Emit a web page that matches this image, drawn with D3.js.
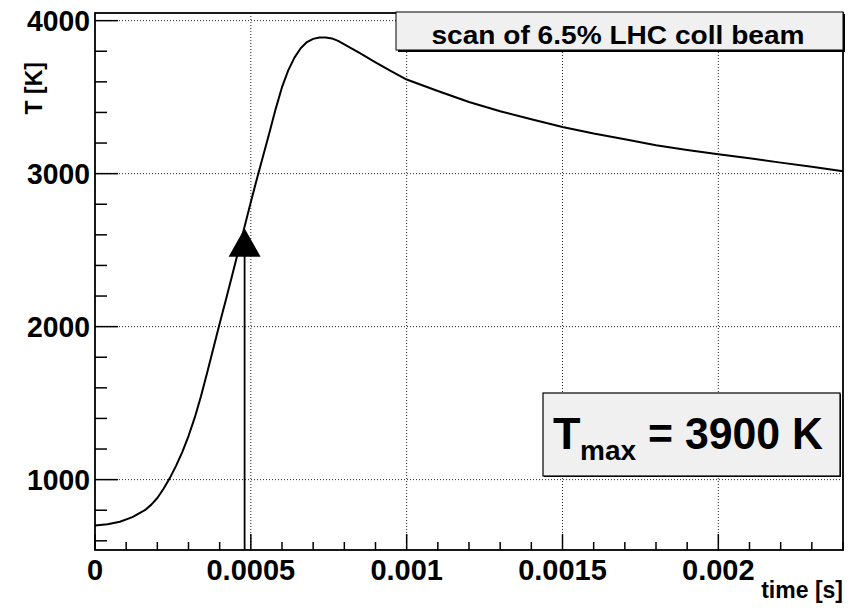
<!DOCTYPE html>
<html>
<head>
<meta charset="utf-8">
<script src="https://cdn.jsdelivr.net/npm/d3@7/dist/d3.min.js"></script>
<style>
  html, body { margin: 0; padding: 0; background: #fff; }
  svg { display: block; }
  text { font-family: "Liberation Sans", Arial, Helvetica, sans-serif; font-weight: bold; fill: #000; }
</style>
</head>
<body>
<div id="chart"></div>
<script>
// time [s] and temperature [K]
var timeS = [0, 0.00004, 0.00008, 0.00012, 0.00016, 0.00018, 0.0002, 0.00022, 0.00024, 0.00026,
  0.00028, 0.0003, 0.00032, 0.00034, 0.00036, 0.00038, 0.0004, 0.00042, 0.00044, 0.00046,
  0.00048, 0.0005, 0.00052, 0.00054, 0.00056, 0.00058, 0.0006, 0.00062, 0.00064, 0.00066,
  0.00068, 0.0007, 0.00072, 0.00074, 0.00076, 0.00078, 0.0008, 0.00082, 0.00085, 0.0009,
  0.00095, 0.001, 0.0011, 0.0012, 0.0013, 0.0014, 0.0015, 0.0016, 0.0017, 0.0018,
  0.0019, 0.002, 0.0021, 0.0022, 0.0023, 0.0024];
var tempK = [700, 708, 725, 755, 800, 835, 880, 940, 1010, 1090,
  1180, 1285, 1405, 1545, 1700, 1860, 2020, 2175, 2335, 2495,
  2655, 2815, 2970, 3120, 3270, 3425, 3565, 3675, 3758, 3820,
  3860, 3881, 3890, 3890, 3884, 3868, 3845, 3822, 3787, 3728,
  3670, 3615, 3540, 3468, 3408, 3355, 3305, 3262, 3225, 3185,
  3155, 3127, 3100, 3072, 3045, 3015];

// scan marker
var markerTime = [0.00048];
var markerTemp = [2550];

var xTicks = [0, 0.0005, 0.001, 0.0015, 0.002];
var xTickLabels = ['0', '0.0005', '0.001', '0.0015', '0.002'];
var yTicks = [1000, 2000, 3000, 4000];
var yTickLabels = ['1000', '2000', '3000', '4000'];

var titleText = 'scan of 6.5% LHC coll beam';
var xTitle = 'time [s]';
var yTitle = 'T [K]';
var tmaxValue = '= 3900 K';

(function(){
  var W = 853, H = 608;
  var left = 95, right = 843, top = 13, bottom = 550;

  var svg = d3.select('#chart').append('svg').attr('width', W).attr('height', H);
  svg.append('rect').attr('width', W).attr('height', H).attr('fill', '#fff');

  var x = d3.scaleLinear().domain([0, 0.0024]).range([left, right]);
  var y = d3.scaleLinear().domain([540, 4050]).range([bottom, top]);

  // grid
  var grid = svg.append('g').attr('stroke', '#222').attr('stroke-width', 1).attr('stroke-dasharray', '1,2');
  xTicks.slice(1).forEach(function(t){
    grid.append('line').attr('x1', x(t)).attr('x2', x(t)).attr('y1', top).attr('y2', bottom);
  });
  yTicks.forEach(function(v){
    grid.append('line').attr('x1', left).attr('x2', right).attr('y1', y(v)).attr('y2', y(v));
  });

  // ticks (ROOT style, inside the frame)
  var ticks = svg.append('g').attr('stroke', '#000').attr('stroke-width', 1.5);
  d3.range(0, 25).forEach(function(i){
    var t = i * 0.0001;
    var major = i % 5 === 0;
    ticks.append('line').attr('x1', x(t)).attr('x2', x(t))
      .attr('y1', bottom).attr('y2', bottom - (major ? 16 : 8));
  });
  d3.range(3, 21).forEach(function(i){
    var v = i * 200;
    var major = i % 5 === 0;
    ticks.append('line').attr('x1', left).attr('x2', left + (major ? 23 : 12))
      .attr('y1', y(v)).attr('y2', y(v));
  });

  // curve
  var line = d3.line().x(function(d){ return x(d[0]); }).y(function(d){ return y(d[1]); });
  var pts = timeS.map(function(t, i){ return [t, tempK[i]]; });
  svg.append('path').datum(pts).attr('d', line)
    .attr('fill', 'none').attr('stroke', '#000').attr('stroke-width', 2)
    .attr('stroke-linejoin', 'round');

  // marker with drop line
  markerTime.forEach(function(t, i){
    var mx = x(t), my = y(markerTemp[i]);
    svg.append('line').attr('x1', mx).attr('x2', mx).attr('y1', my).attr('y2', y(540))
      .attr('stroke', '#000').attr('stroke-width', 1.8);
    svg.append('path')
      .attr('d', 'M' + mx + ',' + (my - 14.2) + 'L' + (mx + 16) + ',' + (my + 14.2) + 'L' + (mx - 16) + ',' + (my + 14.2) + 'Z')
      .attr('fill', '#000');
  });

  // frame
  svg.append('rect').attr('x', left).attr('y', top).attr('width', right - left).attr('height', bottom - top)
    .attr('fill', 'none').attr('stroke', '#000').attr('stroke-width', 1.8);

  // tick labels
  xTicks.forEach(function(t, i){
    svg.append('text').attr('x', x(t)).attr('y', 580).attr('text-anchor', 'middle')
      .attr('font-size', 29).text(xTickLabels[i]);
  });
  yTicks.forEach(function(v, i){
    svg.append('text').attr('x', 90).attr('y', y(v) + 10.5).attr('text-anchor', 'end')
      .attr('font-size', 29).attr('textLength', 63).attr('lengthAdjust', 'spacingAndGlyphs')
      .text(yTickLabels[i]);
  });

  // axis titles
  svg.append('text').attr('x', right).attr('y', 598).attr('text-anchor', 'end')
    .attr('font-size', 23).text(xTitle);
  svg.append('text').attr('transform', 'translate(42,62) rotate(-90)').attr('text-anchor', 'end')
    .attr('font-size', 23).text(yTitle);

  // title pave
  svg.append('rect').attr('x', 398).attr('y', 14).attr('width', 447).attr('height', 38).attr('fill', '#000');
  svg.append('rect').attr('x', 396).attr('y', 12).attr('width', 447).attr('height', 38)
    .attr('fill', '#f0f0f0').attr('stroke', '#000').attr('stroke-width', 1);
  svg.append('text').attr('x', 618).attr('y', 44).attr('text-anchor', 'middle')
    .attr('font-size', 26).attr('textLength', 373).attr('lengthAdjust', 'spacingAndGlyphs').text(titleText);

  // Tmax pave
  svg.append('rect').attr('x', 544).attr('y', 394).attr('width', 297).attr('height', 83).attr('fill', '#000');
  svg.append('rect').attr('x', 543).attr('y', 393).attr('width', 297).attr('height', 83)
    .attr('fill', '#f0f0f0').attr('stroke', '#000').attr('stroke-width', 1.2);
  svg.append('text').attr('x', 553).attr('y', 449).attr('font-size', 45).text('T');
  svg.append('text').attr('x', 580).attr('y', 460).attr('font-size', 28).text('max');
  svg.append('text').attr('x', 648).attr('y', 449).attr('font-size', 45)
    .attr('textLength', 175).attr('lengthAdjust', 'spacingAndGlyphs').text(tmaxValue);
})();
</script>
</body>
</html>
